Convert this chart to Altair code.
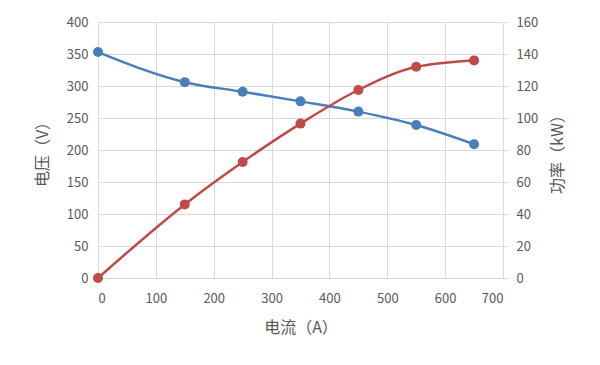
import altair as alt
import pandas as pd

current = [0, 150, 250, 350, 450, 550, 650]
voltage = [353, 306, 291, 276, 260, 239, 209]
power = [0, 46, 72.5, 96.5, 117.5, 132, 136]

x_ticks = [0, 100, 200, 300, 400, 500, 600, 700]
v_ticks = [0, 50, 100, 150, 200, 250, 300, 350, 400]
p_ticks = [0, 20, 40, 60, 80, 100, 120, 140, 160]

df = pd.DataFrame({"current": current, "voltage": voltage, "power": power})

FONT = "Noto Sans CJK SC"
GRAY = "#595959"
GRID = "#d9d9d9"
BLUE = "#4a7ebb"
RED = "#be4b48"

x = alt.X("current:Q", scale=alt.Scale(domain=[0, 700], nice=False),
          axis=alt.Axis(values=x_ticks, title="电流（A）", grid=True, gridColor=GRID,
                        domainColor=GRID, ticks=False, labelPadding=14, titlePadding=14))

base = alt.Chart(df)

yv = alt.Y("voltage:Q", scale=alt.Scale(domain=[0, 400], nice=False),
           axis=alt.Axis(values=v_ticks, title="电压（V）", grid=True, gridColor=GRID,
                         domain=False, ticks=False, labelPadding=10, titlePadding=16))
yp = alt.Y("power:Q", scale=alt.Scale(domain=[0, 160], nice=False),
           axis=alt.Axis(values=p_ticks, title="功率（kW）", orient="right", grid=False,
                         domain=True, domainColor=GRID, ticks=True, tickColor=GRID, tickSize=5,
                         labelPadding=8, titlePadding=28, titleAngle=270))

v_layer = alt.layer(
    base.mark_line(color=BLUE, strokeWidth=2.5, interpolate="monotone").encode(x=x, y=yv),
    base.mark_circle(color=BLUE, size=100, opacity=1).encode(x=x, y=yv),
)
p_layer = alt.layer(
    base.mark_line(color=RED, strokeWidth=2.5, interpolate="monotone").encode(x=x, y=yp),
    base.mark_circle(color=RED, size=100, opacity=1).encode(x=x, y=yp),
)

chart = alt.layer(v_layer, p_layer).resolve_scale(y="independent").properties(
    width=405, height=256,
    autosize=alt.AutoSizeParams(type="none"),
    padding={"left": 90, "top": 14, "right": 89, "bottom": 79},
    background="white",
).configure_view(stroke=None).configure_axis(
    labelFont=FONT, titleFont=FONT, labelFontSize=13, titleFontSize=16,
    labelColor=GRAY, titleColor=GRAY, titleFontWeight="normal",
)

chart.save("out.html", embed_options={"renderer": "svg", "actions": False})
